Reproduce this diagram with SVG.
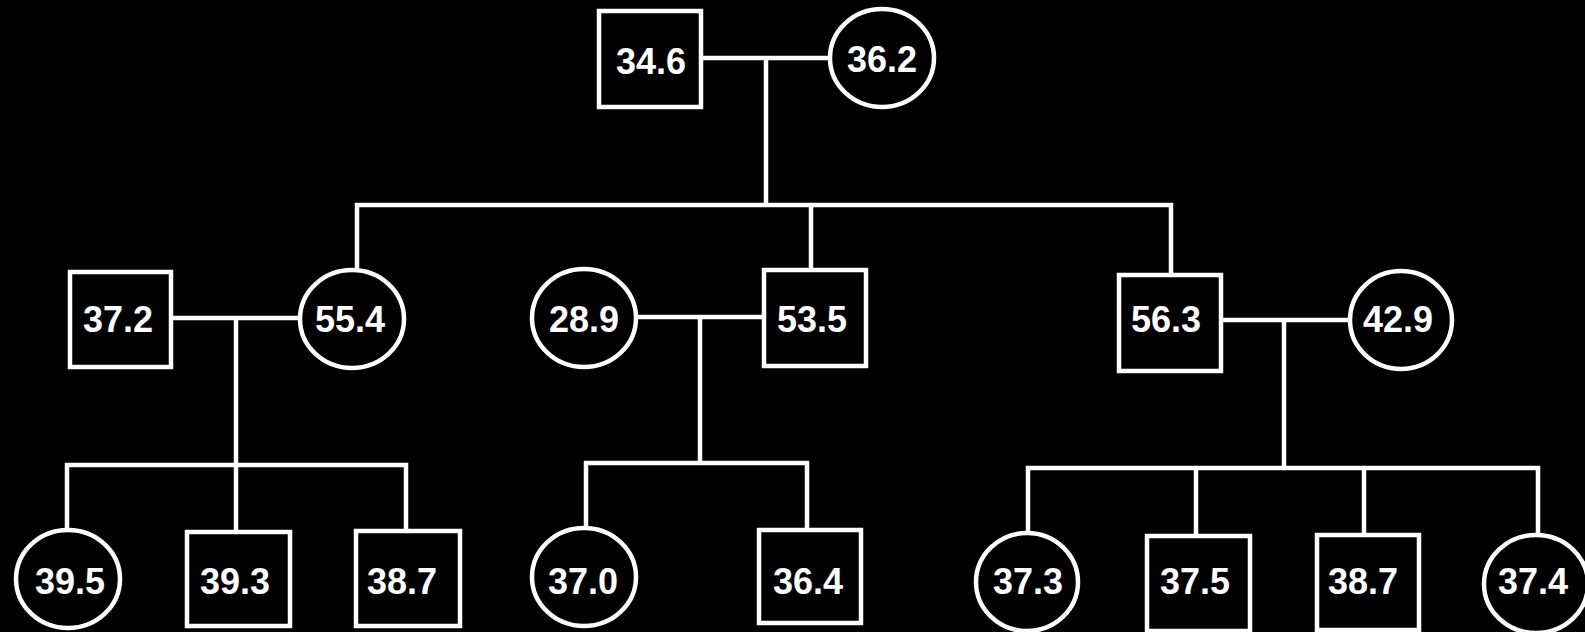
<svg xmlns="http://www.w3.org/2000/svg" width="1585" height="632" viewBox="0 0 1585 632">
<style>
.n{fill:#000;stroke:#fff;stroke-width:4.5}
.c{fill:none;stroke:#fff;stroke-width:4.5;stroke-linecap:butt;stroke-linejoin:miter}
text{font-family:"Liberation Sans",Arial,sans-serif;font-weight:bold;font-size:36px;fill:#fff;text-anchor:middle}
</style>
<rect width="1585" height="632" fill="#000"/>
<g id="connectors">
<path class="c" d="M703 58H828M766 58V205M357 268V205H1171V275M811 205V269"/>
<path class="c" d="M173 318H298M236 318V465M67 528V465H406V529M236 465V530"/>
<path class="c" d="M638 317H762M700 317V463M586 526V463H807V528"/>
<path class="c" d="M1223 320H1348M1284 320V468M1028 531V468H1538V533M1196 468V534M1364 468V533"/>
</g>
<g id="n346"><rect class="n" x="599" y="11" width="102" height="96"/><text x="651" y="74">34.6</text></g>
<g id="n362"><ellipse class="n" cx="882" cy="58" rx="52" ry="49"/><text x="882" y="72">36.2</text></g>
<g id="n372"><rect class="n" x="70" y="272" width="101" height="95"/><text x="118" y="332">37.2</text></g>
<g id="n554"><ellipse class="n" cx="352" cy="319" rx="52" ry="49"/><text x="350" y="332">55.4</text></g>
<g id="n289"><ellipse class="n" cx="584" cy="318" rx="52" ry="49"/><text x="584" y="332">28.9</text></g>
<g id="n535"><rect class="n" x="764" y="270" width="102" height="96"/><text x="812" y="332">53.5</text></g>
<g id="n563"><rect class="n" x="1119" y="275" width="102" height="96"/><text x="1166" y="332">56.3</text></g>
<g id="n429"><ellipse class="n" cx="1401" cy="320" rx="51" ry="49"/><text x="1398" y="332">42.9</text></g>
<g id="n395"><ellipse class="n" cx="68" cy="579" rx="52" ry="49"/><text x="70" y="594">39.5</text></g>
<g id="n393"><rect class="n" x="187" y="532" width="103" height="94"/><text x="235" y="594">39.3</text></g>
<g id="n387a"><rect class="n" x="356" y="531" width="104" height="95"/><text x="402" y="594">38.7</text></g>
<g id="n370"><ellipse class="n" cx="584" cy="577" rx="52" ry="49"/><text x="583" y="594">37.0</text></g>
<g id="n364"><rect class="n" x="759" y="530" width="102" height="93"/><text x="808" y="594">36.4</text></g>
<g id="n373"><ellipse class="n" cx="1027" cy="582" rx="51" ry="49"/><text x="1028" y="594">37.3</text></g>
<g id="n375"><rect class="n" x="1147" y="536" width="103" height="95"/><text x="1195" y="594">37.5</text></g>
<g id="n387b"><rect class="n" x="1317" y="535" width="102" height="95"/><text x="1363" y="594">38.7</text></g>
<g id="n374"><ellipse class="n" cx="1536" cy="584" rx="52" ry="49"/><text x="1533" y="594">37.4</text></g>
</svg>
